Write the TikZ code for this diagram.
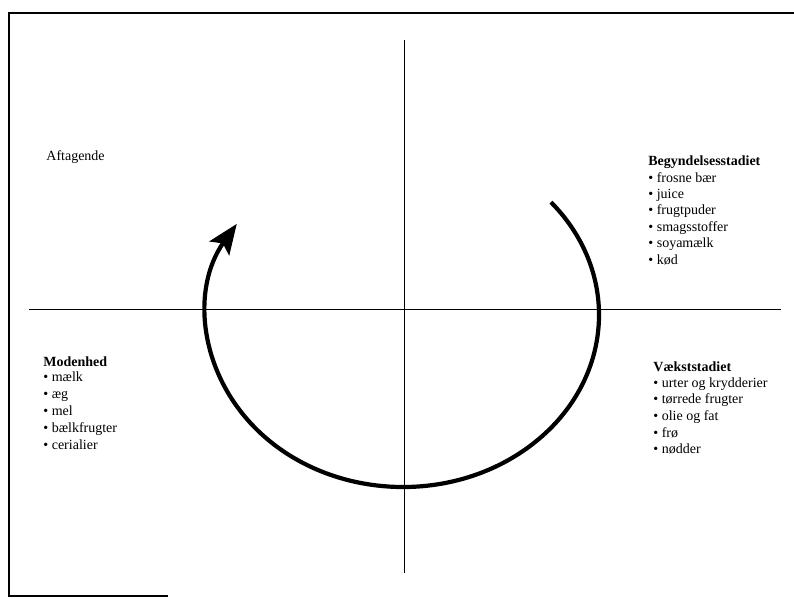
\documentclass[tikz,border=0pt]{standalone}
\usepackage{fontspec}
\setmainfont{Liberation Serif}
\usetikzlibrary{arrows.meta, calc, positioning}

\begin{document}
\begin{tikzpicture}[
    x=1pt, y=-1pt,
    font=\fontsize{14}{16}\selectfont,
    >=Stealth,
    line width=0.8pt,
    listhead/.style={anchor=base west, inner sep=0pt, font=\fontsize{14}{16}\selectfont\bfseries},
    listitem/.style={anchor=base west, inner sep=0pt},
]
\useasboundingbox (0,0) rectangle (794,598);

%------------------------------------------------------------
% page frame (top, left and a piece of the bottom edge)
%------------------------------------------------------------
\coordinate (Ftr) at (794,13);
\coordinate (Ftl) at (9,13);
\coordinate (Fbl) at (9,596);
\coordinate (Fbr) at (168,596);
\draw[line width=1.3pt] (Ftr) -- (Ftl) -- (Fbl) -- (Fbr);

%============================================================
%  Axes
%============================================================
\coordinate (Vt) at (404,40);
\coordinate (Vb) at (404,573);
\coordinate (Hl) at (29,309);
\coordinate (Hr) at (781,309);
\draw (Vt) -- (Vb);
\draw (Hl) -- (Hr);

%============================================================
%  Cycle arrow (elliptic arc, clockwise on the page)
%============================================================
\def\Rx{196}   % x radius
\def\Ry{172}   % y radius
\coordinate (C) at (403,315);
\draw[line width=4.2pt, -{Stealth[length=30pt, width=24pt, inset=6pt]}]
    ($(C)+(-41:{\Rx} and {\Ry})$) arc[start angle=-41, end angle=212, x radius=\Rx, y radius=\Ry];

%============================================================
%  Quadrant labels
%============================================================
\node[listitem] (aft) at (46,160) {Aftagende};

% --- top right ---
\node[listhead] (beg) at (648,165) {Begyndelsesstadiet};
\foreach \i/\lbl in {0/frosne bær, 1/juice, 2/frugtpuder, 3/smagsstoffer, 4/soyamælk, 5/kød}{
    \pgfmathsetmacro\yy{182 + 16.4*\i}
    \node[listitem] (beg\i) at (648,\yy) {\textbullet\ \lbl};
}

% --- bottom right ---
\node[listhead] (vaek) at (653,371) {Vækststadiet};
\foreach \i/\lbl in {0/urter og krydderier, 1/tørrede frugter, 2/olie og fat, 3/frø, 4/nødder}{
    \pgfmathsetmacro\yy{387 + 16.7*\i}
    \node[listitem] (vaek\i) at (653,\yy) {\textbullet\ \lbl};
}

% --- bottom left ---
\node[listhead] (mod) at (43,366) {Modenhed};
\foreach \i/\lbl in {0/mælk, 1/æg, 2/mel, 3/bælkfrugter, 4/cerialier}{
    \pgfmathsetmacro\yy{381 + 17*\i}
    \node[listitem] (mod\i) at (43,\yy) {\textbullet\ \lbl};
}

\end{tikzpicture}
\end{document}
